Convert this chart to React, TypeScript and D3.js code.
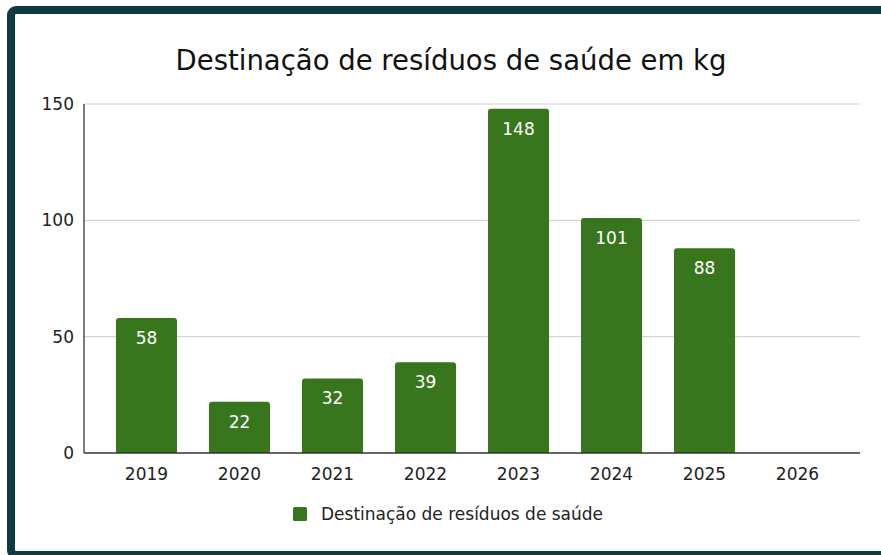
import React, { useEffect, useRef } from 'react';
import * as d3 from 'd3';

const years = ['2019', '2020', '2021', '2022', '2023', '2024', '2025', '2026'];
const values: (number | null)[] = [58, 22, 32, 39, 148, 101, 88, null];
const yTicks = [0, 50, 100, 150];
const title = 'Destinação de resíduos de saúde em kg';
const seriesName = 'Destinação de resíduos de saúde';

const W = 881;
const H = 555;
const FONT = '"DejaVu Sans", Verdana, sans-serif';
const GREEN = '#38761d';

function App() {
  const ref = useRef<SVGSVGElement>(null);

  useEffect(() => {
    const svg = d3.select(ref.current);
    svg.selectAll('*').remove();

    // frame
    svg.append('rect')
      .attr('x', 11).attr('y', 10)
      .attr('width', 884).attr('height', 545)
      .attr('rx', 5)
      .attr('fill', '#fff')
      .attr('stroke', '#0f3a42')
      .attr('stroke-width', 8);

    const left = 84, right = 860, top = 104, bottom = 453;

    const x = d3.scaleBand<string>()
      .domain(years)
      .range([100, 844])
      .paddingInner(0.344)
      .paddingOuter(0.172);

    const y = d3.scaleLinear().domain([0, 150]).range([bottom, top]);

    svg.append('text')
      .attr('x', 451).attr('y', 70)
      .attr('text-anchor', 'middle')
      .attr('font-family', FONT)
      .attr('font-size', 27.5)
      .attr('fill', '#111')
      .text(title);

    // gridlines
    svg.append('g')
      .selectAll('line')
      .data(yTicks.filter(d => d > 0))
      .enter()
      .append('line')
      .attr('x1', left).attr('x2', right)
      .attr('y1', d => y(d)).attr('y2', d => y(d))
      .attr('stroke', '#cccccc')
      .attr('stroke-width', 1);

    svg.append('g')
      .selectAll('text')
      .data(yTicks)
      .enter()
      .append('text')
      .attr('x', left - 10)
      .attr('y', d => y(d))
      .attr('dy', '0.35em')
      .attr('text-anchor', 'end')
      .attr('font-family', FONT)
      .attr('font-size', 17)
      .attr('fill', '#222')
      .text(d => d);

    // bars
    const data = years.map((yr, i) => ({ yr, v: values[i] })).filter(d => d.v != null) as { yr: string; v: number }[];
    const r = 3;
    svg.append('g')
      .selectAll('path')
      .data(data)
      .enter()
      .append('path')
      .attr('d', d => {
        const x0 = x(d.yr)!, w = x.bandwidth(), y0 = y(d.v), y1 = y(0);
        return `M${x0},${y1}V${y0 + r}Q${x0},${y0} ${x0 + r},${y0}H${x0 + w - r}Q${x0 + w},${y0} ${x0 + w},${y0 + r}V${y1}Z`;
      })
      .attr('fill', GREEN);

    svg.append('g')
      .selectAll('text')
      .data(data)
      .enter()
      .append('text')
      .attr('x', d => x(d.yr)! + x.bandwidth() / 2)
      .attr('y', d => y(d.v) + 20)
      .attr('dy', '0.35em')
      .attr('text-anchor', 'middle')
      .attr('font-family', FONT)
      .attr('font-size', 17)
      .attr('fill', '#fff')
      .text(d => d.v);

    // axes lines
    svg.append('line')
      .attr('x1', left).attr('x2', left)
      .attr('y1', top).attr('y2', bottom)
      .attr('stroke', '#333').attr('stroke-width', 1.3);
    svg.append('line')
      .attr('x1', left).attr('x2', right)
      .attr('y1', bottom).attr('y2', bottom)
      .attr('stroke', '#333').attr('stroke-width', 1.3);

    svg.append('g')
      .selectAll('text')
      .data(years)
      .enter()
      .append('text')
      .attr('x', d => x(d)! + x.bandwidth() / 2)
      .attr('y', 474)
      .attr('dy', '0.35em')
      .attr('text-anchor', 'middle')
      .attr('font-family', FONT)
      .attr('font-size', 17)
      .attr('fill', '#222')
      .text(d => d);

    // legend
    const lg = svg.append('g');
    lg.append('rect')
      .attr('x', 293).attr('y', 507)
      .attr('width', 14).attr('height', 14)
      .attr('rx', 1.5)
      .attr('fill', GREEN);
    lg.append('text')
      .attr('x', 321).attr('y', 514)
      .attr('dy', '0.35em')
      .attr('font-family', FONT)
      .attr('font-size', 17)
      .attr('fill', '#222')
      .text(seriesName);
  }, []);

  return (
    <svg ref={ref} width={W} height={H}
      style={{ position: 'absolute', left: 0, top: 0, background: '#fff' }} />
  );
}

export default App;
